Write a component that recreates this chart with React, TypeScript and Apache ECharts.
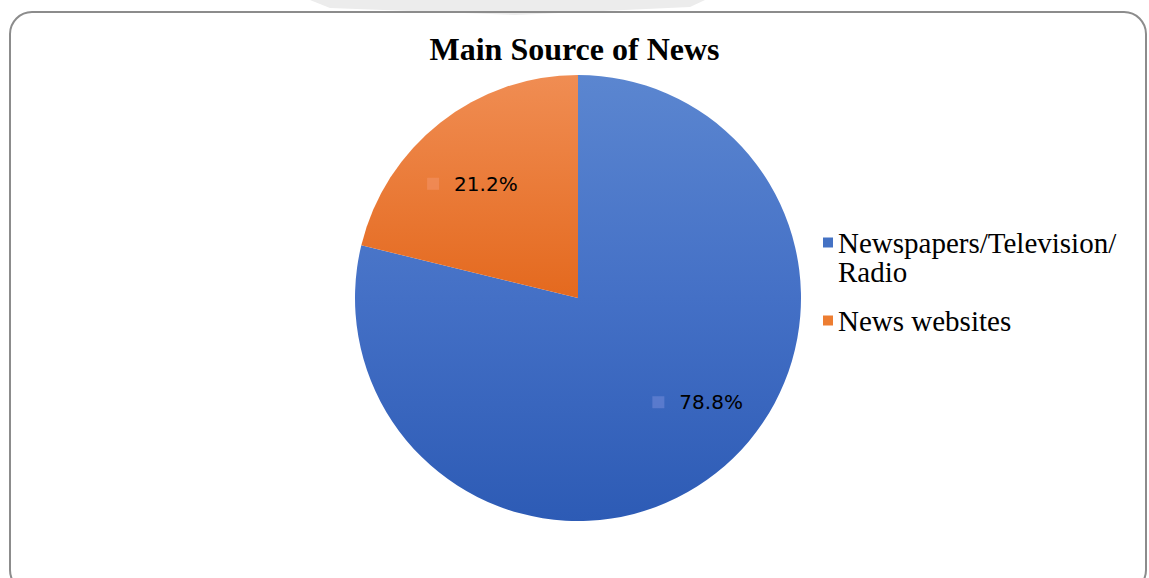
import React, { useEffect, useRef } from "react";
import * as echarts from "echarts";

const title = "Main Source of News";
const categories = ["Newspapers/Television/Radio", "News websites"];
const legendLabels = ["\nNewspapers/Television/\nRadio", "News websites"];
const values = [78.8, 21.2];
const percentLabels = ["78.8%", "21.2%"];

export default function App() {
  const ref = useRef<HTMLDivElement>(null);
  useEffect(() => {
    document.body.style.margin = "0";
    const chart = echarts.init(ref.current!, null, { renderer: "svg" });
    const cx = 578, cy = 298, R = 223;
    const blueGrad = new echarts.graphic.LinearGradient(0, cy - R, 0, cy + R, [
      { offset: 0, color: "#5b86d0" },
      { offset: 0.5, color: "#4470c6" },
      { offset: 1, color: "#2d5bb5" },
    ], true);
    const orangeGrad = new echarts.graphic.LinearGradient(0, cy - R, 0, cy + R, [
      { offset: 0, color: "#f08d53" },
      { offset: 0.5, color: "#e4691e" },
      { offset: 1, color: "#d55d10" },
    ], true);
    const fills = [blueGrad, orangeGrad];
    const legendColors = ["#4472c4", "#ed7d31"];
    const markerColors = ["rgba(100,130,210,0.75)", "rgba(240,140,90,0.8)"];
    const labelOffsets = [[22, -20], [-8, 10]];

    chart.setOption({
      animation: false,
      backgroundColor: "#ffffff",
      title: {
        text: title,
        left: "center",
        top: 28,
        textStyle: {
          fontFamily: "Liberation Serif",
          fontWeight: "bold",
          fontSize: 32,
          color: "#000",
        },
      },
      legend: {
        orient: "vertical",
        left: 818,
        top: 194,
        itemWidth: 10,
        itemHeight: 10,
        itemGap: 20,
        icon: "rect",
        formatter: (name: string) => legendLabels[categories.indexOf(name)],
        textStyle: {
          fontFamily: "Liberation Serif",
          fontSize: 29,
          color: "#000",
          lineHeight: 29,
        },
        data: categories.map((c, i) => ({ name: c, itemStyle: { color: legendColors[i] } })),
      },
      graphic: [
        {
          type: "polygon",
          shape: { points: [[310, 0], [705, 0], [690, 7], [515, 15], [330, 8]] },
          style: { fill: "#ececec" },
          z: 0,
        },
        {
          type: "rect",
          shape: { x: 10, y: 12, width: 1136, height: 580, r: 22 },
          style: { fill: "none", stroke: "#8c8c8c", lineWidth: 2 },
          z: 1,
        },
      ],
      series: [
        {
          type: "pie",
          center: [cx, cy],
          radius: [0, R],
          startAngle: 90,
          clockwise: true,
          label: { show: false },
          labelLine: { show: false },
          emphasis: { disabled: true },
          data: categories.map((c, i) => ({
            name: c,
            value: values[i],
            itemStyle: { color: fills[i] },
          })),
        },
        {
          type: "pie",
          center: [cx, cy],
          radius: [87, R],
          startAngle: 90,
          clockwise: true,
          silent: true,
          legendHoverLink: false,
          itemStyle: { color: "rgba(0,0,0,0)" },
          labelLine: { show: false },
          emphasis: { disabled: true },
          data: categories.map((c, i) => ({
            name: c + " ",
            value: values[i],
            label: {
              show: true,
              position: "inside",
              offset: labelOffsets[i],
              formatter: `{m|}{s|}{t|${percentLabels[i]}}`,
              rich: {
                m: { width: 12, height: 12, backgroundColor: markerColors[i] },
                s: { width: 15 },
                t: { fontFamily: "DejaVu Sans", fontSize: 20, color: "#000" },
              },
            },
          })),
        },
      ],
    });
    return () => chart.dispose();
  }, []);
  return <div ref={ref} style={{ width: 1149, height: 578 }} />;
}
